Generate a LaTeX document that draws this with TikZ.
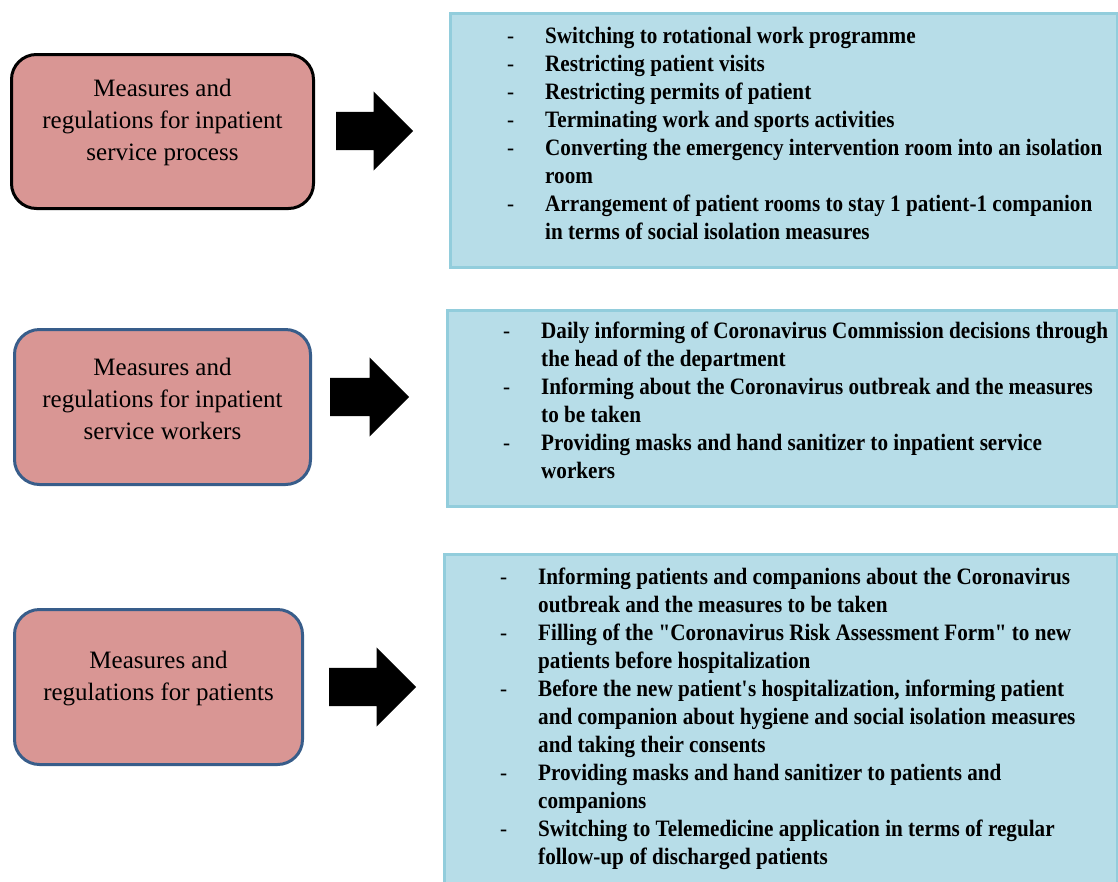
\documentclass[tikz,border=0pt]{standalone}
\usepackage{fontspec}
\setmainfont{Liberation Serif}
\newfontfamily\listfont[FakeStretch=0.9]{Liberation Serif}
\usetikzlibrary{shapes.arrows}
\definecolor{pinkfill}{RGB}{217,150,148}
\definecolor{bluefill}{RGB}{183,221,232}
\definecolor{blueedge}{RGB}{146,205,220}
\definecolor{darkedge}{RGB}{56,93,138}
\newcommand{\dsh}{\mdseries -}
\begin{document}
\begin{tikzpicture}[x=1pt,y=-1pt,
  catbox/.style={rectangle,line width=3pt,fill=pinkfill,rounded corners=25pt,inner sep=0pt,anchor=north west},
  cattext/.style={align=center,font=\fontsize{25}{32}\selectfont,inner sep=0pt},
  listbox/.style={rectangle,line width=3pt,draw=blueedge,fill=bluefill,inner sep=0pt,anchor=north west},
  listtext/.style={anchor=base west,inner sep=0pt,font=\listfont\bfseries\fontsize{23.5}{28}\selectfont},
  blockarrow/.style={single arrow,fill=black,inner sep=0pt,text height=19pt,text depth=19pt,
    single arrow head extend=20.5pt,single arrow tip angle=90,anchor=tail}
]
\useasboundingbox (0,0) rectangle (1118,881);

% left category boxes
\node[catbox,draw=black,minimum width=302pt,minimum height=154pt] (c1) at (10,53) {};
\node[cattext] (t1) at ([yshift=9pt]c1.center) {Measures and\\regulations for inpatient\\service process};
\node[catbox,draw=darkedge,minimum width=296pt,minimum height=155pt] (c2) at (13,328) {};
\node[cattext] (t2) at ([yshift=8pt]c2.center) {Measures and\\regulations for inpatient\\service workers};
\node[catbox,draw=darkedge,minimum width=288pt,minimum height=155pt] (c3) at (13,608) {};
\node[cattext] (t3) at ([yshift=8pt]c3.center) {Measures and\\regulations for patients};

% block arrows
\node[blockarrow,minimum height=77pt] (a1) at (336,131) {};
\node[blockarrow,minimum height=79pt] (a2) at (330,397) {};
\node[blockarrow,minimum height=87pt] (a3) at (329,687) {};

% right list boxes
\node[listbox,minimum width=667pt,minimum height=254pt] (b1) at (449,12) {};
\node[listtext] (l1) at (507,43) {\begin{tabular}[t]{@{}p{38pt}@{}l@{}}
\dsh & Switching to rotational work programme\\
\dsh & Restricting patient visits\\
\dsh & Restricting permits of patient\\
\dsh & Terminating work and sports activities\\
\dsh & Converting the emergency intervention room into an isolation\\
  & room\\
\dsh & Arrangement of patient rooms to stay 1 patient-1 companion\\
  & in terms of social isolation measures
\end{tabular}};

\node[listbox,minimum width=670pt,minimum height=196pt] (b2) at (446,309) {};
\node[listtext] (l2) at (503,338) {\begin{tabular}[t]{@{}p{38pt}@{}l@{}}
\dsh & Daily informing of Coronavirus Commission decisions through\\
  & the head of the department\\
\dsh & Informing about the Coronavirus outbreak and the measures\\
  & to be taken\\
\dsh & Providing masks and hand sanitizer to inpatient service\\
  & workers
\end{tabular}};

\node[listbox,minimum width=673pt,minimum height=345pt] (b3) at (443,553) {};
\node[listtext] (l3) at (500,584) {\begin{tabular}[t]{@{}p{38pt}@{}l@{}}
\dsh & Informing patients and companions about the Coronavirus\\
  & outbreak and the measures to be taken\\
\dsh & Filling of the "Coronavirus Risk Assessment Form" to new\\
  & patients before hospitalization\\
\dsh & Before the new patient\textquotesingle s hospitalization, informing patient\\
  & and companion about hygiene and social isolation measures\\
  & and taking their consents\\
\dsh & Providing masks and hand sanitizer to patients and\\
  & companions\\
\dsh & Switching to Telemedicine application in terms of regular\\
  & follow-up of discharged patients
\end{tabular}};
\end{tikzpicture}
\end{document}
